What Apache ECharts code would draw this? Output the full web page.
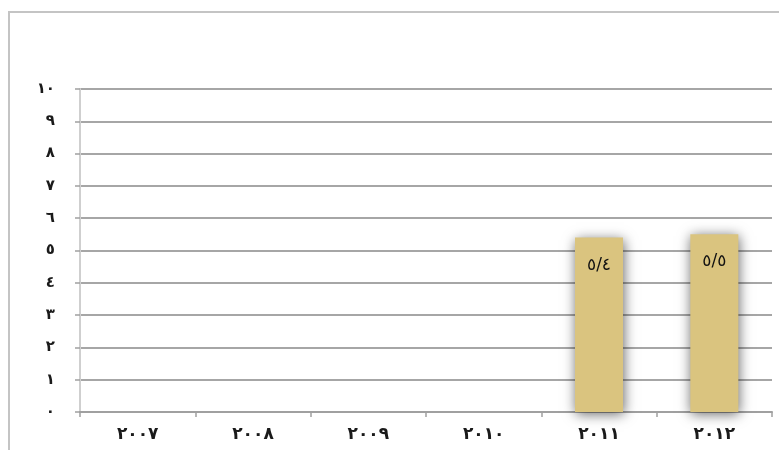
<!DOCTYPE html>
<html>
<head>
<meta charset="utf-8">
<script src="https://cdn.jsdelivr.net/npm/echarts@6/dist/echarts.min.js"></script>
<style>
    html, body { margin: 0; padding: 0; background: #fff; }
    #chart { width: 779px; height: 450px; }
</style>
</head>
<body>
<div id="chart"></div>
<script>
// years on the x axis, Arabic-Indic digits as in the picture
let categories = ['٢٠٠٧', '٢٠٠٨', '٢٠٠٩', '٢٠١٠', '٢٠١١', '٢٠١٢']
// only the last two years have a value
let values = [null, null, null, null, 5.4, 5.5]
let yTickLabels = ['٠', '١', '٢', '٣', '٤', '٥', '٦', '٧', '٨', '٩', '١٠']

const arabicDigits = '٠١٢٣٤٥٦٧٨٩'
function toArabic(v) {
    return String(v).replace(/[0-9]/g, d => arabicDigits[d]).replace('.', '/')
}

let chart = echarts.init(document.getElementById('chart'))

let options = {
    animation: false,
    textStyle: {
        fontFamily: 'DejaVu Sans'
    },
    graphic: [{
        type: 'rect',
        shape: { x: 9, y: 12, width: 800, height: 460 },
        style: { fill: 'none', stroke: '#c4c4c4', lineWidth: 2 },
        silent: true
    }],
    grid: {
        left: 80,
        right: 7,
        top: 89,
        bottom: 38
    },
    xAxis: {
        type: 'category',
        data: categories,
        axisLine: { lineStyle: { color: '#a0a0a0', width: 2 } },
        axisTick: { show: true, length: 5, lineStyle: { color: '#a0a0a0', width: 1.5 } },
        axisLabel: {
            color: '#1a1a1a',
            fontSize: 17,
            fontWeight: 'bold',
            margin: 14
        }
    },
    yAxis: {
        type: 'value',
        min: 0,
        max: 10,
        interval: 1,
        axisLine: { show: true, lineStyle: { color: '#cfcfcf', width: 2 } },
        axisTick: { show: true, length: 5, lineStyle: { color: '#a0a0a0', width: 1.5 } },
        splitLine: { lineStyle: { color: '#a6a6a6', width: 2 } },
        axisLabel: {
            color: '#1a1a1a',
            fontSize: 15,
            fontWeight: 'bold',
            margin: 25,
            formatter: function(value) {
                return yTickLabels[value]
            }
        }
    },
    series: [{
        type: 'bar',
        data: values,
        barWidth: 48,
        itemStyle: {
            color: '#dac47f',
            shadowColor: 'rgba(0,0,0,0.6)',
            shadowBlur: 12,
            shadowOffsetX: 1,
            shadowOffsetY: 2
        },
        label: {
            show: true,
            position: 'insideTop',
            distance: 19,
            color: '#111',
            fontSize: 17,
            formatter: function(p) {
                return toArabic(p.value)
            }
        }
    }]
}

chart.setOption(options)
</script>
</body>
</html>
